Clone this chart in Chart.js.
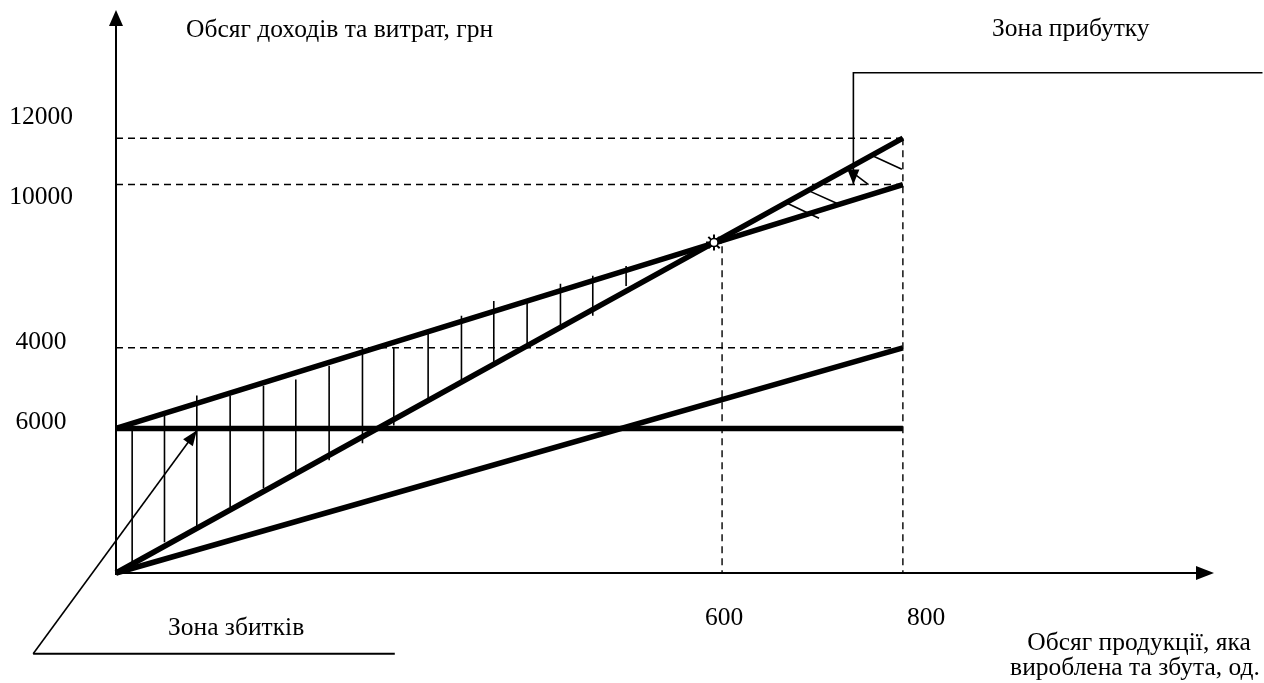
<!DOCTYPE html>
<html>
<head>
<meta charset="utf-8">
<script src="https://cdn.jsdelivr.net/npm/chart.js@4/dist/chart.umd.min.js"></script>
<style>
  html, body { margin: 0; padding: 0; background: #ffffff; }
  canvas { display: block; }
</style>
</head>
<body>
<canvas id="chart" width="1264" height="683"></canvas>
<script>
// Output volume, units (start and end of the drawn range)
const outputX = [0, 779];

// Revenue and costs, грн, at the ends of the output range
const revenue       = [0, 12000];
const totalCosts    = [3990, 10720];
const variableCosts = [0, 6215];
const fixedCosts    = [3990, 3990];

// Break-even point: [units, грн]
const breakEven = [592, 9120];
const breakEvenDropTop = 9020;

// Loss zone hatching: output, upper end, lower end
const lossHatchX      = [16, 48, 80, 113, 146, 178, 211, 244, 275, 309, 342, 374, 407, 440, 472, 505];
const lossHatchTop    = [3930, 4350, 4900, 4900, 5170, 5340, 5720, 6220, 6220, 6600, 7100, 7510, 7560, 7980, 8200, 8470];
const lossHatchBottom = [300, 850, 1270, 1820, 2340, 2750, 3110, 3580, 4070, 4760, 5250, 5720, 6270, 6710, 7100, 7920];

// Profit zone hatching: start and end of each stroke
const profitHatchStartX = [665, 685, 728, 750];
const profitHatchStartY = [10200, 10560, 11080, 11500];
const profitHatchEndX   = [696, 714, 745, 778];
const profitHatchEndY   = [9790, 10200, 10720, 11140];

// Axis tick labels
const xTickValues = [600, 800];
const xTickLabels = ['600', '800'];
const yTickValues = [12590, 10360, 6370, 4170];
const yTickLabels = ['12000', '10000', '4000', '6000'];

// Axis and annotation captions
const yAxisTitle = 'Обсяг доходів та витрат, грн';
const xAxisTitle = ['Обсяг продукції, яка', 'вироблена та збута, од.'];
const profitZoneLabel = 'Зона прибутку';
const lossZoneLabel = 'Зона збитків';

// ---- build datasets ----
const pts = (xs, ys) => xs.map((x, i) => ({ x: x, y: ys[i] }));
const endX = outputX[outputX.length - 1];

const lossHatch = [];
lossHatchX.forEach((x, i) => {
  lossHatch.push({ x: x, y: lossHatchTop[i] }, { x: x, y: lossHatchBottom[i] }, { x: x, y: null });
});
const profitHatch = [];
profitHatchStartX.forEach((x, i) => {
  profitHatch.push({ x: x, y: profitHatchStartY[i] },
                   { x: profitHatchEndX[i], y: profitHatchEndY[i] },
                   { x: profitHatchEndX[i], y: null });
});

const dashedGuides = [];
[revenue[1], totalCosts[1], variableCosts[1]].forEach(v => {
  dashedGuides.push({ x: outputX[0], y: v }, { x: endX, y: v }, { x: endX, y: null });
});
dashedGuides.push({ x: xTickValues[0], y: breakEvenDropTop }, { x: xTickValues[0], y: 0 }, { x: xTickValues[0], y: null });
dashedGuides.push({ x: endX, y: revenue[1] }, { x: endX, y: 0 });

const INK = '#000000';
const thick = (label, data) => ({
  label, data, showLine: true, borderColor: INK, borderWidth: 5.5,
  pointRadius: 0, borderCapStyle: 'butt', order: 2, clip: false
});

const datasets = [
  { label: 'break-even core', data: [{ x: breakEven[0], y: breakEven[1] }], pointStyle: 'circle',
    pointRadius: 4, backgroundColor: '#ffffff', borderColor: INK, borderWidth: 1.5, order: 0 },
  { label: 'break-even', data: [{ x: breakEven[0], y: breakEven[1] }], pointStyle: 'star',
    pointRadius: 8, borderColor: INK, borderWidth: 2, order: 1 },
  thick('Виручка', pts(outputX, revenue)),
  thick('Сукупні витрати', pts(outputX, totalCosts)),
  thick('Змінні витрати', pts(outputX, variableCosts)),
  thick('Постійні витрати', pts(outputX, fixedCosts)),
  { label: 'loss hatch', data: lossHatch, showLine: true, spanGaps: false, borderColor: INK,
    borderWidth: 1.6, pointRadius: 0, order: 5, clip: false },
  { label: 'profit hatch', data: profitHatch, showLine: true, spanGaps: false, borderColor: INK,
    borderWidth: 1.6, pointRadius: 0, order: 5, clip: false },
  { label: 'guides', data: dashedGuides, showLine: true, spanGaps: false, borderColor: INK,
    borderWidth: 1.4, borderDash: [7, 5], pointRadius: 0, order: 6, clip: false }
];

// ---- annotation drawing ----
function arrowHead(ctx, x0, y0, x1, y1, len, half) {
  const a = Math.atan2(y1 - y0, x1 - x0);
  const bx = x1 - len * Math.cos(a), by = y1 - len * Math.sin(a);
  ctx.beginPath();
  ctx.moveTo(x1, y1);
  ctx.lineTo(bx + half * Math.sin(a), by - half * Math.cos(a));
  ctx.lineTo(bx - half * Math.sin(a), by + half * Math.cos(a));
  ctx.closePath();
  ctx.fill();
}

const diagramPlugin = {
  id: 'diagram',
  afterDraw(chart, args, opts) {
    const ctx = chart.ctx;
    const { left, right, top, bottom } = chart.chartArea;
    const xs = chart.scales.x, ys = chart.scales.y;
    const px = v => xs.getPixelForValue(v);
    const py = v => ys.getPixelForValue(v);
    ctx.save();
    ctx.strokeStyle = INK;
    ctx.fillStyle = INK;
    ctx.setLineDash([]);

    // axes with arrows
    ctx.lineWidth = 2;
    ctx.beginPath();
    ctx.moveTo(left, bottom + 2);
    ctx.lineTo(left, top + 12);
    ctx.moveTo(left - 1, bottom);
    ctx.lineTo(right - 14, bottom);
    ctx.stroke();
    arrowHead(ctx, left, bottom, left, top, 16, 7);
    arrowHead(ctx, left, bottom, right, bottom, 18, 7);

    // callouts
    ctx.lineWidth = 1.6;
    opts.callouts.forEach(c => {
      const p = c.map(q => [px(q[0]), py(q[1])]);
      ctx.beginPath();
      ctx.moveTo(p[0][0], p[0][1]);
      for (let i = 1; i < p.length; i++) ctx.lineTo(p[i][0], p[i][1]);
      ctx.stroke();
      const a = p[p.length - 2], b = p[p.length - 1];
      arrowHead(ctx, a[0], a[1], b[0], b[1], 15, 6);
    });
    ctx.lineWidth = 2;
    opts.underlines.forEach(u => {
      ctx.beginPath();
      ctx.moveTo(px(u[0][0]), py(u[0][1]));
      ctx.lineTo(px(u[1][0]), py(u[1][1]));
      ctx.stroke();
    });

    // text
    ctx.font = opts.font;
    ctx.textBaseline = 'alphabetic';
    ctx.textAlign = 'left';
    ctx.fillText(yAxisTitle, 186, 37);
    ctx.fillText(profitZoneLabel, 992, 36);
    ctx.fillText(lossZoneLabel, 168, 635);
    ctx.textAlign = 'center';
    ctx.fillText(xAxisTitle[0], 1139, 650);
    ctx.fillText(xAxisTitle[1], 1135, 675);
    xTickValues.forEach((v, i) => ctx.fillText(xTickLabels[i], px(v) + 2, 625));
    ctx.textBaseline = 'middle';
    yTickValues.forEach((v, i) => ctx.fillText(yTickLabels[i], 41, py(v)));
    ctx.restore();
  }
};

new Chart(document.getElementById('chart'), {
  type: 'scatter',
  data: { datasets },
  options: {
    responsive: false,
    animation: false,
    events: [],
    layout: { padding: { left: 116, right: 50, top: 8, bottom: 110 } },
    scales: {
      x: { type: 'linear', min: 0, max: 1087, display: false },
      y: { type: 'linear', min: 0, max: 15537.5, display: false }
    },
    plugins: {
      legend: { display: false },
      tooltip: { enabled: false },
      diagram: {
        font: '25.5px "Liberation Serif", "Times New Roman", serif',
        callouts: [
          [[1135, 13805], [730, 13805], [730, 10720]],
          [[-82, -2230], [80, 3930]]
        ],
        underlines: [
          [[-82, -2230], [276, -2230]]
        ]
      }
    }
  },
  plugins: [diagramPlugin]
});
</script>
</body>
</html>
